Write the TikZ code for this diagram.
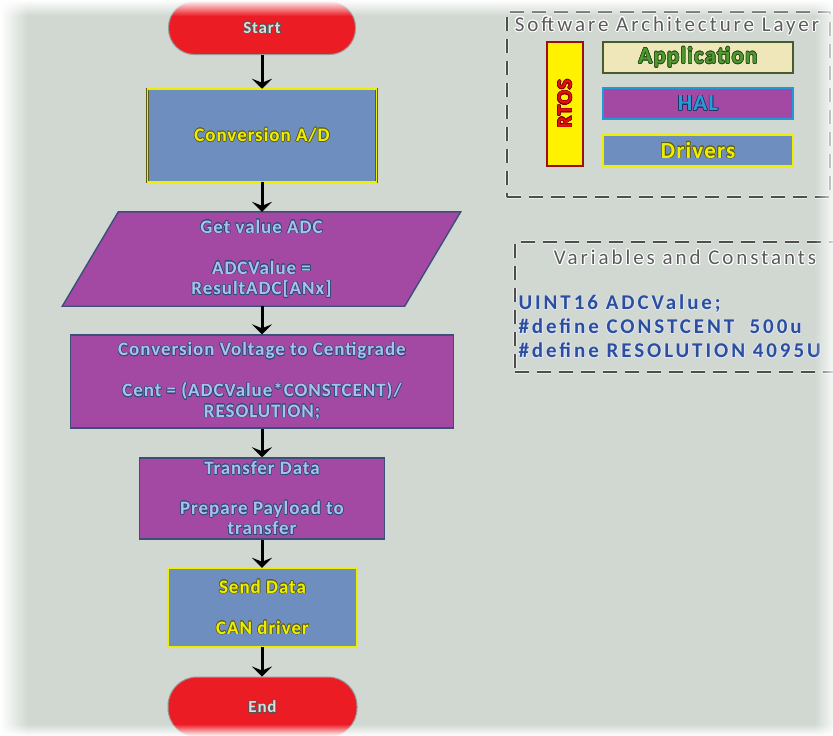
\documentclass[tikz,border=0pt]{standalone}
\usepackage{fontspec}
\setmainfont{Carlito}[LetterSpace=5]
\newfontfamily\widefont{Carlito}[LetterSpace=14]
\usepackage[copies]{contour}
\usetikzlibrary{arrows.meta,fadings}
\contourlength{0.6pt}

\definecolor{bgc}{HTML}{D0D8D1}
\definecolor{termred}{HTML}{EC1C24}
\definecolor{steel}{HTML}{6D8EBF}
\definecolor{violet}{HTML}{A349A4}
\definecolor{vborder}{HTML}{3C4E7A}
\definecolor{ylw}{HTML}{EEEE00}
\definecolor{ylwdark}{HTML}{5E5E12}
\definecolor{tan}{HTML}{EFE6BA}
\definecolor{olivedark}{HTML}{4A5A30}
\definecolor{halblue}{HTML}{1E9BD7}
\definecolor{darkred}{HTML}{9A1010}
\definecolor{ptext}{HTML}{A9C1E6}
\definecolor{pline}{HTML}{2D4B7C}
\definecolor{ttext}{HTML}{DCDCDC}
\definecolor{tline}{HTML}{555555}
\definecolor{gtext}{HTML}{4E9A2E}
\definecolor{gline}{HTML}{2C4C1C}
\definecolor{rtext}{HTML}{E41010}
\definecolor{rline}{HTML}{7A0000}
\definecolor{htext}{HTML}{2A9AD8}
\definecolor{hline}{HTML}{1C3666}
\definecolor{titletext}{HTML}{5A5A5A}
\definecolor{codeblue}{HTML}{2B4F9E}
\definecolor{dashgray}{HTML}{4E4E4E}

% outlined text helpers
\newcommand\ptx[1]{{\color{ptext}\contour{pline}{#1}}}
\newcommand\ytx[1]{{\color{ylw}\contour{ylwdark}{#1}}}
\newcommand\ttx[1]{{\color{ttext}\contour{tline}{#1}}}

% soft white edges of the sheet
\tikzfading[name=fadeleft, left color=transparent!0, right color=transparent!100]
\tikzfading[name=fadetop, top color=transparent!0, bottom color=transparent!100]
\tikzfading[name=faderight, left color=transparent!100, right color=transparent!0]
\tikzfading[name=fadebottom, top color=transparent!100, bottom color=transparent!0]

\pgfdeclarelayer{bg}
\pgfdeclarelayer{fg}
\pgfsetlayers{bg,main,fg}

\begin{document}
\begin{tikzpicture}[x=1pt,y=-1pt,
  flowfont/.style={font=\bfseries\fontsize{19}{20.5}\selectfont, align=center},
  terminal/.style={rectangle, rounded corners=26pt, fill=termred, draw=gray!80,
    line width=1pt, minimum width=187pt, font=\bfseries\fontsize{17}{20}\selectfont},
  bluebox/.style={rectangle, fill=steel, draw=ylwdark, double=ylw,
    line width=0.5pt, double distance=1.6pt, flowfont},
  violetbox/.style={rectangle, fill=violet, draw=vborder, line width=1.4pt, flowfont},
  flowarrow/.style={line width=3pt, -{Stealth[length=10pt,width=20pt,inset=4pt]}},
  dashbox/.style={rectangle, draw=dashgray, line width=1.5pt, dash pattern=on 14pt off 8pt,
    preaction={draw=white, line width=3.4pt, opacity=0.55, dash pattern=on 14pt off 8pt}},
  layerbox/.style={rectangle, line width=2pt, minimum width=190pt, minimum height=31pt,
    font=\bfseries\fontsize{23}{24}\selectfont},
  paneltitle/.style={font=\widefont\fontsize{21}{22}\selectfont, text=titletext}
]
\useasboundingbox (0,0) rectangle (833,736);
\contourlength{0.6pt}

% ---------------- flowchart ----------------
\node[terminal, minimum height=53pt] (start) at (262,28) {\ttx{Start}};

\node[bluebox, minimum width=229pt, minimum height=93pt] (ad) at (262,135.5)
  {\ytx{Conversion A/D}};

\node[flowfont, minimum width=342pt, minimum height=94pt] (get) at (261.5,259)
  {\ptx{Get value ADC}\\[20.5pt]\ptx{ADCValue =}\\\ptx{ResultADC[ANx]}};

\node[violetbox, minimum width=383pt, minimum height=93pt] (conv) at (262,381.5)
  {\ptx{Conversion Voltage to Centigrade}\\[20.5pt]\ptx{Cent = (ADCValue*CONSTCENT)/}\\\ptx{RESOLUTION;}};

\node[violetbox, minimum width=245pt, minimum height=79pt] (xfer) at (262,498.5)
  {\ptx{Transfer Data}\\[19.5pt]\ptx{Prepare Payload to}\\\ptx{transfer}};

\node[bluebox, minimum width=189pt, minimum height=79pt] (send) at (262.5,607.5)
  {\ytx{Send Data}\\[20.5pt]\ytx{CAN driver}};

\node[terminal, minimum width=189pt, minimum height=60pt, rounded corners=29pt] (end) at (262.5,707)
  {\ttx{End}};

\begin{pgfonlayer}{bg}
  \fill[bgc] (0,0) rectangle (833,736);
  % input/output parallelogram behind its text
  \draw[fill=violet, draw=vborder, line width=1.4pt]
    ([xshift=28pt]get.north west) -- ([xshift=28pt]get.north east)
    -- ([xshift=-28pt]get.south east) -- ([xshift=-28pt]get.south west) -- cycle;
\end{pgfonlayer}

\draw[flowarrow] (start.south) -- (start.south |- ad.north);
\draw[flowarrow] (ad.south) -- (ad.south |- get.north);
\draw[flowarrow] (ad.south |- get.south) -- (ad.south |- conv.north);
\draw[flowarrow] (conv.south) -- (conv.south |- xfer.north);
\draw[flowarrow] (xfer.south) -- (xfer.south |- send.north);
\draw[flowarrow] (xfer.south |- send.south) -- (xfer.south |- end.north);

% ---------------- software architecture panel ----------------
\node[dashbox, minimum width=323pt, minimum height=185pt] (arch) at (668.5,104.5) {};
\node[paneltitle] (archtitle) at (667,26)
  {\contourlength{1pt}\contour{white}{Software Architecture Layer}};

\node[rectangle, fill=yellow, draw=darkred, line width=2pt, rotate=90,
  minimum width=124pt, minimum height=36pt, font=\bfseries\fontsize{21}{22}\selectfont]
  (rtos) at (565,104) {{\color{rtext}\contour{rline}{RTOS}}};

\node[layerbox, fill=tan, draw=olivedark] (app) at (698,57.5)
  {{\color{gtext}\contour{gline}{Application}}};
\node[layerbox, fill=violet, draw=halblue] (hal) at (698,103.5)
  {{\color{htext}\contour{hline}{HAL}}};
\node[layerbox, fill=steel, draw=ylwdark, double=ylw, line width=0.5pt, double distance=1.6pt]
  (drv) at (698,150.5) {\ytx{Drivers}};

% ---------------- variables and constants panel ----------------
\node[dashbox, minimum width=330pt, minimum height=130pt] (vars) at (680,307) {};
\node[paneltitle] (varstitle) at (685,258)
  {\contourlength{1pt}\contour{white}{Variables and Constants}};
\node[anchor=west, align=left, text=codeblue,
  font=\widefont\bfseries\fontsize{21}{24}\selectfont] (code) at (515,327)
  {\contourlength{0.8pt}\contour{white!85!codeblue}{UINT16 ADCValue;}\\
   \contourlength{0.8pt}\contour{white!85!codeblue}{\#define CONSTCENT~~500u}\\
   \contourlength{0.8pt}\contour{white!85!codeblue}{\#define RESOLUTION 4095U}};

% ---------------- soft edges ----------------
\begin{pgfonlayer}{fg}
  \fill[white, path fading=fadeleft] (0,0) rectangle (28,736);
  \fill[white, path fading=fadetop] (0,0) rectangle (833,16);
  \fill[white, opacity=0.8, path fading=faderight] (814,0) rectangle (833,736);
  \fill[white, path fading=fadebottom] (0,724) rectangle (833,736);
\end{pgfonlayer}
\end{tikzpicture}
\end{document}
